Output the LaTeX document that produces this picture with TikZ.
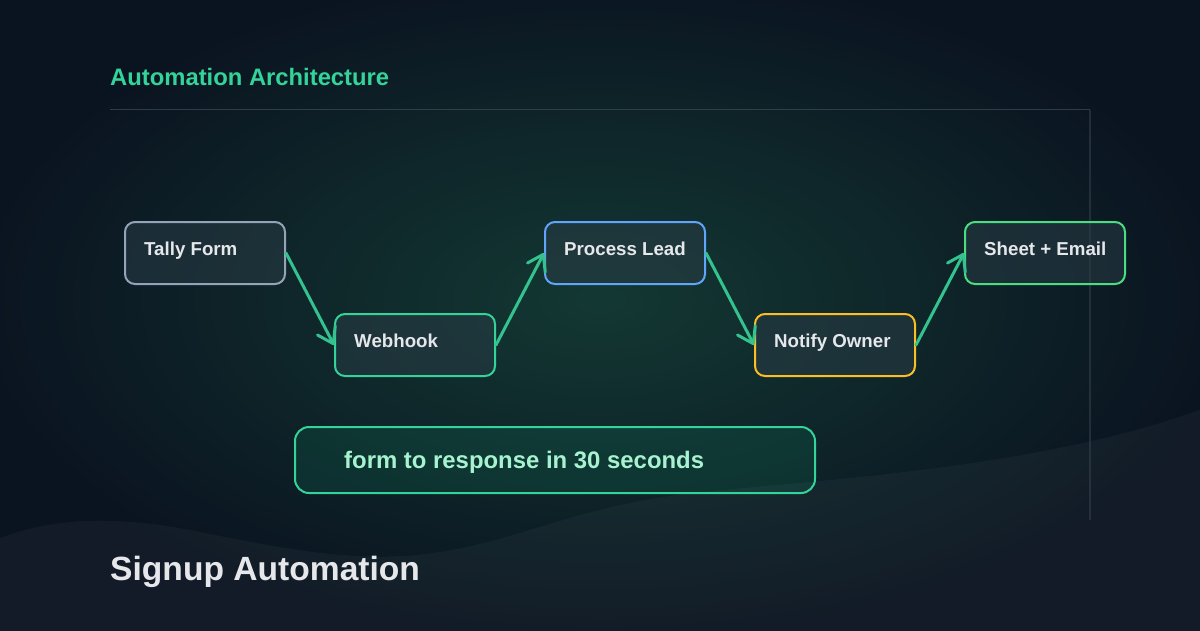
\documentclass[tikz,border=0pt]{standalone}
\usepackage{fontspec}
\setmainfont{Liberation Sans}
\usetikzlibrary{arrows.meta,calc}
\definecolor{bgc}{HTML}{0A1320}
\definecolor{glowc}{HTML}{133833}
\definecolor{framec}{HTML}{3A4552}
\definecolor{boxfill}{HTML}{2A3D47}
\definecolor{txtc}{HTML}{E5E7EB}
\definecolor{titlec}{HTML}{34D399}
\definecolor{flowc}{HTML}{34C28E}
\definecolor{slatec}{HTML}{94A3B8}
\definecolor{greenc}{HTML}{34D399}
\definecolor{bluec}{HTML}{60A5FA}
\definecolor{amberc}{HTML}{FBBF24}
\definecolor{limec}{HTML}{4ADE80}
\definecolor{mintc}{HTML}{A7F3D0}
\definecolor{noteFill}{HTML}{10B981}
\begin{document}
\begin{tikzpicture}[x=1pt,y=-1pt,
  stepbox/.style={draw, line width=2pt, rounded corners=10pt, minimum width=160pt,
    minimum height=62pt, fill=boxfill, fill opacity=0.5, inner sep=0pt},
  lbl/.style={inner sep=0pt, anchor=base west, text=txtc,
    font=\bfseries\fontsize{18.7}{22}\selectfont},
  flow/.style={draw=flowc, line width=3pt, line cap=round,
    -{Straight Barb[length=15pt,width=20pt,round]}},
]
\useasboundingbox (0,0) rectangle (1200,630);
\clip (-5,-5) rectangle (1205,635);
\fill[bgc] (-5,-5) rectangle (1205,635);
\shade[inner color=glowc, outer color=bgc] (600,300) ellipse [x radius=640, y radius=340];
% bottom wave
\fill[white, opacity=0.035] (-5,540) .. controls (50,518) and (110,515) .. (190,530)
  .. controls (280,548) and (360,565) .. (440,552)
  .. controls (520,540) and (580,505) .. (700,492)
  .. controls (850,478) and (1050,465) .. (1205,408)
  -- (1205,635) -- (-5,635) -- cycle;
% frame
\draw[framec, line width=1.5pt, opacity=0.8] (110,109.5) -- (1090,109.5);
\draw[framec, line width=1.2pt, opacity=0.5] (1090,109.5) -- (1090,520);
% title
\node[inner sep=0pt, anchor=base west, text=titlec,
  font=\bfseries\fontsize{23.8}{28}\selectfont] (title) at (110,85.5) {Automation Architecture};
% boxes
\node[stepbox, draw=slatec] (tally) at (205,253) {};
\node[stepbox, draw=greenc] (webhook) at (415,345) {};
\node[stepbox, draw=bluec] (process) at (625,253) {};
\node[stepbox, draw=amberc] (notify) at (835,345) {};
\node[stepbox, draw=limec] (sheet) at (1045,253) {};
\node[lbl] (tallyt) at ($(tally.north west)+(20,34)$) {Tally Form};
\node[lbl] (webhookt) at ($(webhook.north west)+(20,34)$) {Webhook};
\node[lbl] (processt) at ($(process.north west)+(20,34)$) {Process Lead};
\node[lbl] (notifyt) at ($(notify.north west)+(20,34)$) {Notify Owner};
\node[lbl] (sheett) at ($(sheet.north west)+(20,34)$) {Sheet + Email};
% arrows
\draw[flow] (tally.east) -- (webhook.west);
\draw[flow] (webhook.east) -- (process.west);
\draw[flow] (process.east) -- (notify.west);
\draw[flow] (notify.east) -- (sheet.west);
% note box
\node[draw=greenc, line width=2pt, rounded corners=14pt, minimum width=520pt,
  minimum height=66pt, fill=noteFill, fill opacity=0.12, inner sep=0pt] (note) at (555,460) {};
\node[inner sep=0pt, anchor=base west, text=mintc,
  font=\bfseries\fontsize{23.9}{28}\selectfont] (notet) at ($(note.north west)+(50,42)$) {form to response in 30 seconds};
% footer
\node[inner sep=0pt, anchor=base west, text=txtc,
  font=\bfseries\fontsize{33.6}{40}\selectfont] (footer) at (110,580.5) {Signup Automation};
\end{tikzpicture}
\end{document}
